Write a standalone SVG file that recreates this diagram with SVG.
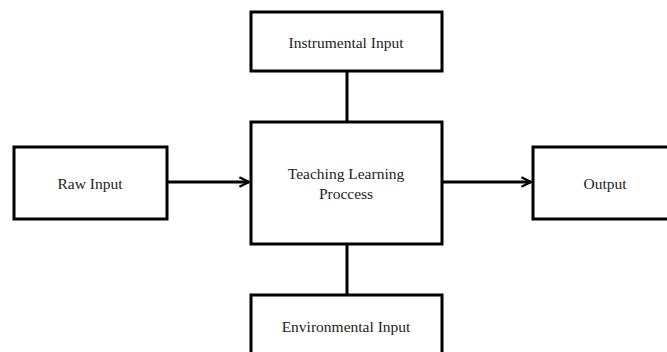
<svg xmlns="http://www.w3.org/2000/svg" width="667" height="352" viewBox="0 0 667 352">
<style>
.box{fill:#fff;stroke:#000;stroke-width:3}
.t{font-family:"Liberation Serif","Times New Roman",serif;font-size:15.5px;fill:#222;text-anchor:middle;dominant-baseline:central}
.c{stroke:#000;stroke-width:3;fill:none}
</style>
<defs>
<marker id="ah" viewBox="0 0 10 10" refX="9" refY="5" markerWidth="4" markerHeight="4" orient="auto" markerUnits="strokeWidth">
<path d="M1,1 L9,5 L1,9" fill="none" stroke="#000" stroke-width="2"/>
</marker>
</defs>
<rect width="667" height="352" fill="#fff"/>
<g id="connectors">
<line class="c" x1="347" y1="71" x2="347" y2="122"/>
<line class="c" x1="347" y1="244" x2="347" y2="295"/>
<line class="c" x1="167" y1="182" x2="249" y2="182" marker-end="url(#ah)"/>
<line class="c" x1="442" y1="182" x2="531" y2="182" marker-end="url(#ah)"/>
</g>
<g id="instrumental">
<rect class="box" x="251" y="12" width="191" height="59"/>
<text class="t" x="346" y="42">Instrumental Input</text>
</g>
<g id="teaching">
<rect class="box" x="251" y="122" width="191" height="122"/>
<text class="t" x="346" y="173">Teaching Learning</text>
<text class="t" x="346" y="193">Proccess</text>
</g>
<g id="raw">
<rect class="box" x="14" y="147" width="153" height="72"/>
<text class="t" x="90" y="183">Raw Input</text>
</g>
<g id="output">
<rect class="box" x="533" y="147" width="137" height="72"/>
<text class="t" x="605" y="183">Output</text>
</g>
<g id="environmental">
<rect class="box" x="251" y="295" width="191" height="70"/>
<text class="t" x="346" y="326">Environmental Input</text>
</g>
</svg>
